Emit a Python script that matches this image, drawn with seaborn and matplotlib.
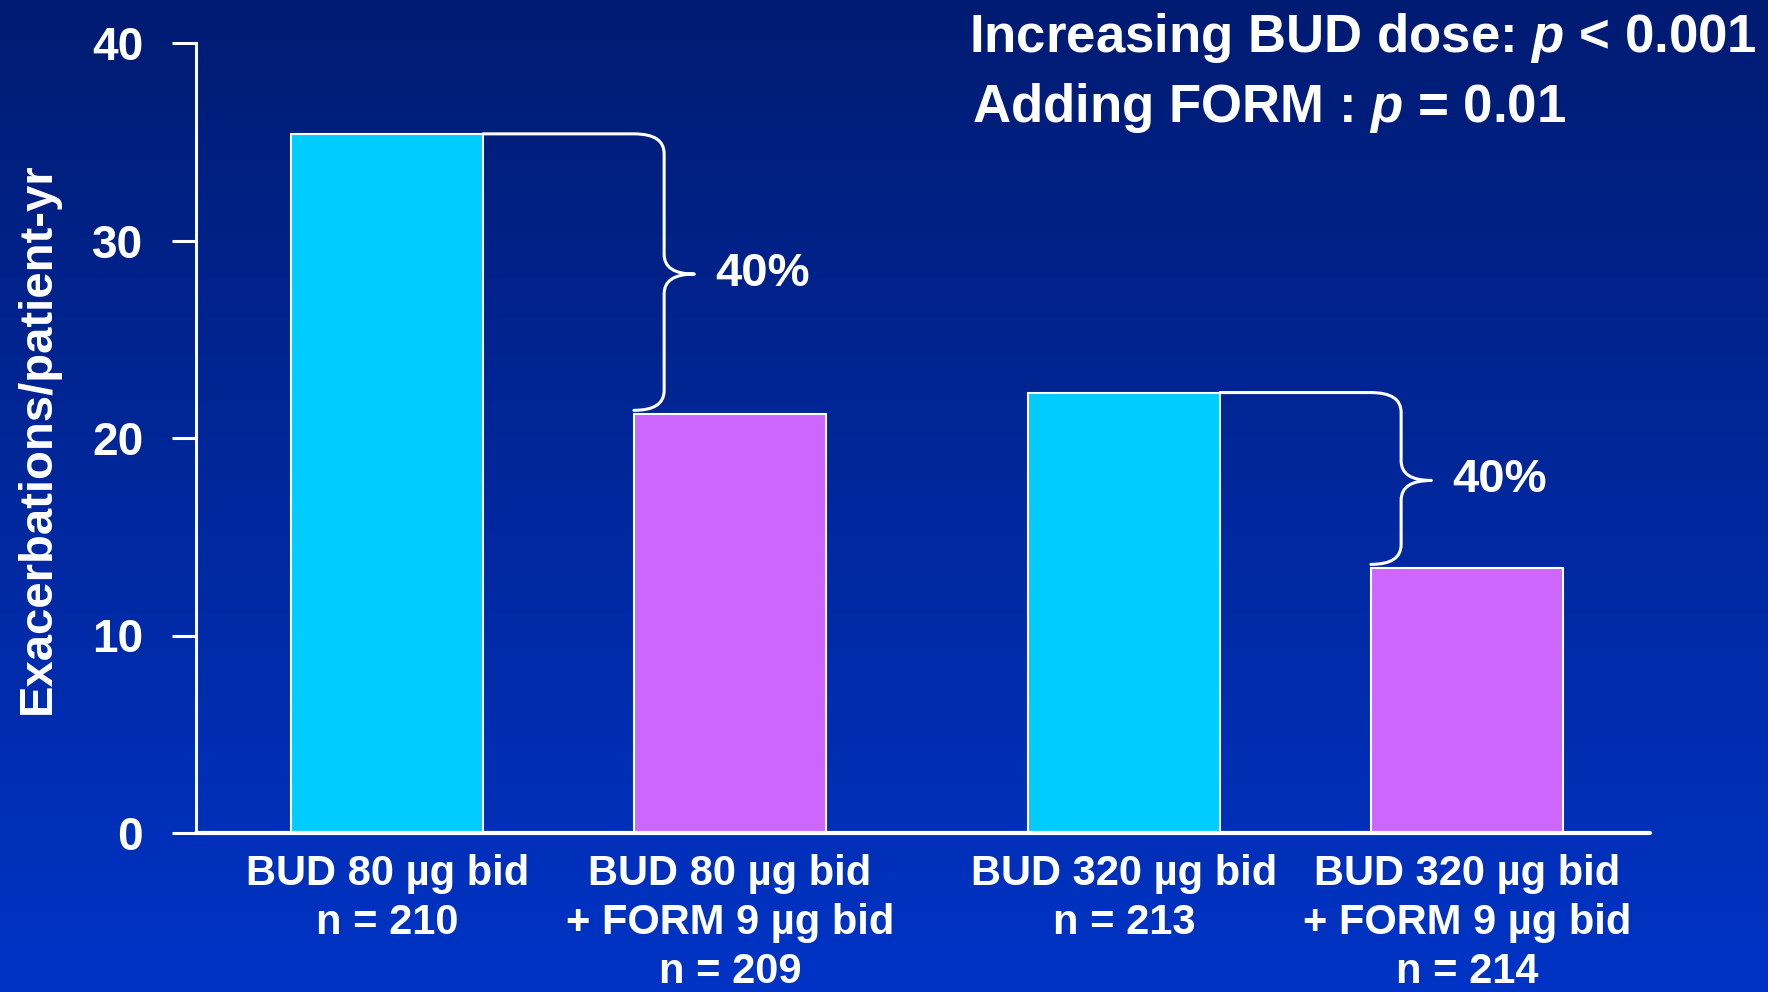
import numpy as np
import pandas as pd
import matplotlib
matplotlib.use("Agg")
import matplotlib.pyplot as plt
from matplotlib.path import Path
from matplotlib.patches import PathPatch
import seaborn as sns

# Exacerbation rates per treatment arm
groups = ["BUD 80 µg bid", "BUD 80 µg bid", "BUD 320 µg bid", "BUD 320 µg bid"]
regimens = ["BUD", "BUD + FORM", "BUD", "BUD + FORM"]
rates = [35.4, 21.2, 22.3, 13.4]
tick_labels = [
    "BUD 80 µg bid\nn = 210",
    "BUD 80 µg bid\n+ FORM 9 µg bid\nn = 209",
    "BUD 320 µg bid\nn = 213",
    "BUD 320 µg bid\n+ FORM 9 µg bid\nn = 214",
]
reductions = ["40%", "40%"]
y_ticks = [0, 10, 20, 30, 40]
stats_lines = [r"Increasing BUD dose: $p$ < 0.001", r"Adding FORM : $p$ = 0.01"]
bar_colors = ["#00CCFF", "#CC66FF"]

sns.set_theme(style="white")
plt.rcParams["font.family"] = ["Liberation Sans", "DejaVu Sans"]
plt.rcParams["font.weight"] = "bold"
plt.rcParams["mathtext.fontset"] = "custom"
plt.rcParams["mathtext.rm"] = "Liberation Sans:bold"
plt.rcParams["mathtext.it"] = "Liberation Sans:italic:bold"

W, H = 1768, 992
fig = plt.figure(figsize=(W / 100, H / 100), dpi=100)

# vertical blue gradient backdrop
bg = fig.add_axes([0, 0, 1, 1], zorder=-10)
top_rgb = np.array([0x00, 0x1B, 0x72]) / 255
bot_rgb = np.array([0x00, 0x34, 0xC6]) / 255
t = np.linspace(0, 1, 512)[:, None, None]
grad = top_rgb[None, None, :] * (1 - t) + bot_rgb[None, None, :] * t
bg.imshow(grad, aspect="auto", extent=[0, 1, 0, 1], origin="upper")
bg.set_axis_off()

ax = fig.add_axes([196 / W, 1 - 833 / H, 1454 / W, (833 - 43) / H])
ax.set_facecolor("none")

df = pd.DataFrame({"group": groups, "regimen": regimens, "rate": rates})
sns.barplot(
    data=df, x="group", y="rate", hue="regimen", palette=bar_colors,
    width=0.93, gap=0.44, saturation=1, edgecolor="white", linewidth=1.5,
    errorbar=None, legend=False, ax=ax,
)

bars = sorted(ax.patches, key=lambda p: p.get_x())
centers = [p.get_x() + p.get_width() / 2 for p in bars]
ax.set_xticks(centers, tick_labels)
ax.set_xlim(-0.4919, 1.481)
ax.set_ylim(0, 40)
ax.set_yticks(y_ticks)

for side in ("top", "right"):
    ax.spines[side].set_visible(False)
ax.spines["left"].set_color("white")
ax.spines["left"].set_linewidth(2.2)
ax.spines["bottom"].set_color("white")
ax.spines["bottom"].set_linewidth(3)
ax.spines["bottom"].set_capstyle("round")

ax.tick_params(axis="y", colors="white", length=17, width=2.2, pad=21,
               labelsize=33, direction="out", left=True)
ax.tick_params(axis="x", length=0, pad=15, labelsize=30, labelcolor="white")
for lbl in ax.get_xticklabels() + ax.get_yticklabels():
    lbl.set_fontweight("bold")
for lbl in ax.get_xticklabels():
    lbl.set_linespacing(1.29)

ax.set_xlabel("")
ax.set_ylabel("Exacerbations/patient-yr", fontsize=34, fontweight="bold",
              color="white", va="center")
ax.yaxis.set_label_coords(-0.1087, 0.5)

# curly braces linking each BUD bar to its BUD + FORM partner
dx, dy = 0.041, 1.0
for (i, j), txt in zip([(0, 1), (2, 3)], reductions):
    tall, short = bars[i], bars[j]
    x0 = tall.get_x() + tall.get_width()
    x1 = short.get_x()
    y_top = tall.get_height()
    y_bot = short.get_height() + 0.2
    xv = x1 + dx
    xt = xv + dx
    ym = (tall.get_height() + short.get_height()) / 2
    verts = [
        (x0, y_top), (x1, y_top),
        (xv, y_top), (xv, y_top - dy),
        (xv, ym + dy),
        (xv, ym), (xt, ym),
        (xv, ym), (xv, ym - dy),
        (xv, y_bot + dy),
        (xv, y_bot), (x1, y_bot),
    ]
    codes = [
        Path.MOVETO, Path.LINETO,
        Path.CURVE3, Path.CURVE3,
        Path.LINETO,
        Path.CURVE3, Path.CURVE3,
        Path.CURVE3, Path.CURVE3,
        Path.LINETO,
        Path.CURVE3, Path.CURVE3,
    ]
    ax.add_patch(PathPatch(Path(verts, codes), facecolor="none",
                           edgecolor="white", lw=2.2, capstyle="round",
                           joinstyle="round", zorder=5))
    ax.text(xt + 0.029, ym, txt, ha="left", va="center", fontsize=34,
            fontweight="bold", color="white")

fig.text(969 / W, 1 - 52 / H, stats_lines[0], ha="left", va="baseline",
         fontsize=38, fontweight="bold", color="white")
fig.text(972 / W, 1 - 122 / H, stats_lines[1], ha="left", va="baseline",
         fontsize=38, fontweight="bold", color="white")

fig.savefig("out.png", dpi=100)
